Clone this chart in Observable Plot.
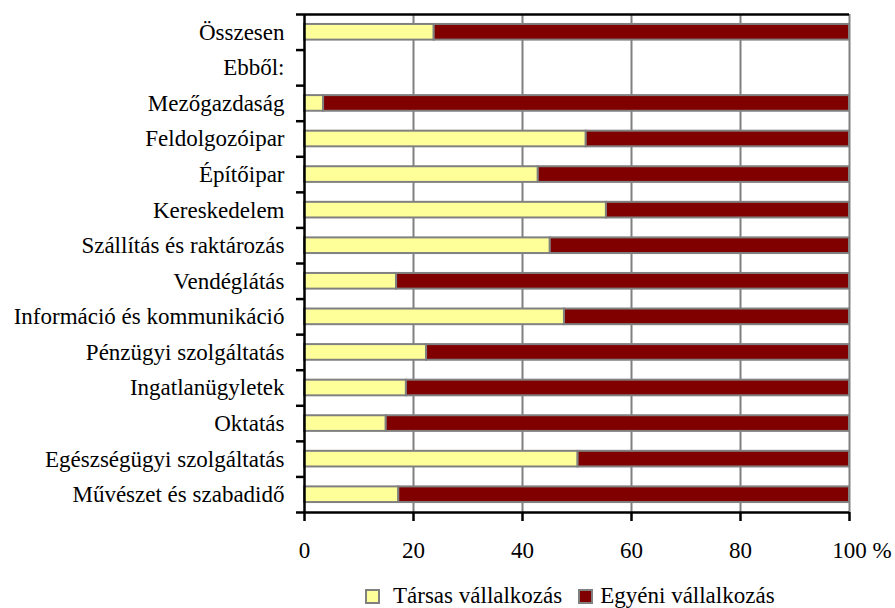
<!DOCTYPE html>
<html>
<head>
<meta charset="utf-8">
<script src="https://cdn.jsdelivr.net/npm/d3@7"></script>
<script src="https://cdn.jsdelivr.net/npm/@observablehq/plot@0.6"></script>
<style>
  html, body { margin: 0; padding: 0; background: #fff; }
  body { position: relative; width: 895px; height: 608px; overflow: hidden; }
  #chart { width: 895px; }
  #chart svg { display: block; }
  .legend { position: absolute; left: 365px; top: 581px; height: 30px; line-height: 30px;
            font-family: "Liberation Serif", serif; font-size: 23px; color: #000;
            display: flex; align-items: center; white-space: nowrap; }
  .sw { display: inline-block; width: 11px; height: 11px; border: 2px solid #808080; }
  .item { display: flex; align-items: center; }
</style>
</head>
<body>
<div id="chart"></div>
<script>
const categories = [
  "Összesen", "Ebből:", "Mezőgazdaság", "Feldolgozóipar", "Építőipar", "Kereskedelem",
  "Szállítás és raktározás", "Vendéglátás", "Információ és kommunikáció",
  "Pénzügyi szolgáltatás", "Ingatlanügyletek", "Oktatás",
  "Egészségügyi szolgáltatás", "Művészet és szabadidő"
];
const tarsas = [23.8, null, 3.5, 51.7, 42.9, 55.4, 45.1, 16.9, 47.7, 22.4, 18.7, 15.0, 50.2, 17.3];
const egyeni = [76.2, null, 96.5, 48.3, 57.1, 44.6, 54.9, 83.1, 52.3, 77.6, 81.3, 85.0, 49.8, 82.7];
const seriesNames = ["Társas vállalkozás", "Egyéni vállalkozás"];
const seriesColors = ["#FFFF99", "#800000"];
const xTicks = [0, 20, 40, 60, 80, 100];

// stacked rows: x1/x2 from cumulative sums of the values
const rows = [];
categories.forEach((c, i) => {
  if (tarsas[i] == null) return;
  rows.push({cat: c, idx: i, series: seriesNames[0], x1: 0, x2: tarsas[i]});
  rows.push({cat: c, idx: i, series: seriesNames[1], x1: tarsas[i], x2: tarsas[i] + egyeni[i]});
});

const W = 895, H = 578, mT = 14, mB = 66, mL = 304, mR = 46;
const step = (H - mT - mB) / categories.length;
const inset = step * 0.28;
const tickSize = 9, tickPadding = 20;

const plot = Plot.plot({
  width: W, height: H,
  marginTop: mT, marginBottom: mB, marginLeft: mL, marginRight: mR,
  style: { fontFamily: "Liberation Serif, serif", fontSize: "23px", color: "#000", background: "#fff" },
  x: { type: "linear", domain: [0, 100] },
  y: { type: "linear", domain: [0, categories.length], reverse: true },
  color: { domain: seriesNames, range: seriesColors },
  marks: [
    Plot.gridX(xTicks.slice(1), { stroke: "#808080", strokeOpacity: 1, strokeWidth: 2 }),
    Plot.rect(rows, {
      x1: "x1", x2: "x2", y1: d => d.idx, y2: d => d.idx + 1, fill: "series",
      stroke: "#808080", strokeWidth: 2, insetTop: inset, insetBottom: inset
    }),
    Plot.ruleY([0], { stroke: "#000", strokeWidth: 2.5 }),
    Plot.ruleY([categories.length], { stroke: "#000", strokeWidth: 2.5 }),
    Plot.ruleX([0], { stroke: "#000", strokeWidth: 2.5 }),
    Plot.axisY(d3.range(categories.length + 1), { tickSize: 8, tickFormat: () => "", stroke: "#000", strokeWidth: 2.5 }),
    Plot.text(categories, { y: (d, i) => i + 0.5, frameAnchor: "left", dx: -20, textAnchor: "end", text: d => d, fill: "#000", fontSize: 23 }),
    Plot.axisX(xTicks, { tickSize, tickPadding, stroke: "#000", strokeWidth: 2.5, fill: "#000", fontSize: 23, label: null }),
    Plot.text(["%"], { x: () => 100, frameAnchor: "bottom", dy: tickSize + tickPadding, lineAnchor: "top", dx: 23, textAnchor: "start", text: d => d, fill: "#000", fontSize: 23 })
  ]
});
document.getElementById("chart").appendChild(plot);

const leg = document.createElement("div");
leg.className = "legend";
const gaps = [[0, 13], [16, 7]];
seriesNames.forEach((s, i) => {
  const it = document.createElement("span");
  it.className = "item";
  it.style.marginLeft = gaps[i][0] + "px";
  it.innerHTML = `<span class="sw" style="background:${seriesColors[i]};margin-right:${gaps[i][1]}px"></span><span>${s}</span>`;
  leg.appendChild(it);
});
document.body.appendChild(leg);
</script>
</body>
</html>
